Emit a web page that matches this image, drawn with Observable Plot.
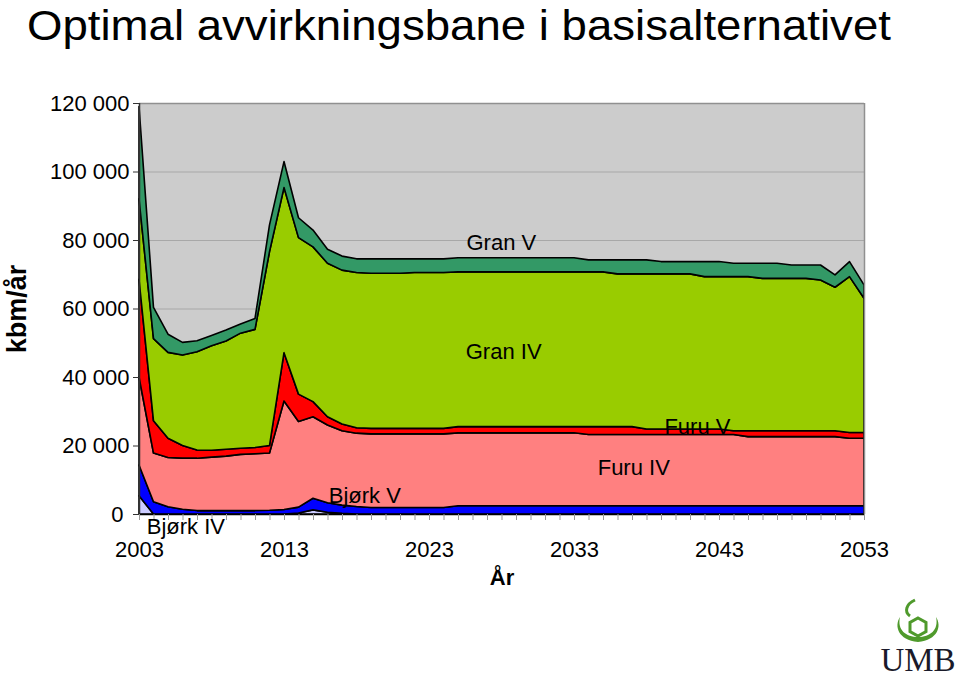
<!DOCTYPE html>
<html><head><meta charset="utf-8">
<script src="https://cdn.jsdelivr.net/npm/d3@7"></script>
<script src="https://cdn.jsdelivr.net/npm/@observablehq/plot@0.6"></script>
<style>
body{margin:0;background:#fff;}
#wrap{position:relative;width:959px;height:679px;overflow:hidden;font-family:"Liberation Sans",Arial,sans-serif;}
#title{position:absolute;left:27px;top:2px;font-size:43px;line-height:46px;white-space:nowrap;color:#000;transform:scaleX(1.06);transform-origin:0 0;}
#chart{position:absolute;left:0;top:0;}
#logo{position:absolute;left:860px;top:590px;}
</style></head><body>
<div id="wrap">
<div id="chart"></div>
<div id="title">Optimal avvirkningsbane i basisalternativet</div>
<svg id="logo" width="99" height="89" viewBox="0 0 99 89">
  <path d="M55,10 C46,14 44,22 50,26" fill="none" stroke="#4f9a2c" stroke-width="3"/>
  <path d="M40,27 C34,36 38,50 58,52 C78,50 82,36 76,27 C79,40 70,47 58,47 C46,47 37,40 40,27 Z" fill="#4f9a2c"/>
  <path d="M58,28 L66,32.5 L66,41.5 L58,46 L50,41.5 L50,32.5 Z" fill="none" stroke="#4f9a2c" stroke-width="3"/>
  <text x="58" y="81" text-anchor="middle" font-family="Liberation Serif, DejaVu Serif, serif" font-size="33" fill="#1a1a2a">UMB</text>
</svg>
</div>
<script>
const years = [2003,2004,2005,2006,2007,2008,2009,2010,2011,2012,2013,2014,2015,2016,2017,2018,2019,2020,2021,2022,2023,2024,2025,2026,2027,2028,2029,2030,2031,2032,2033,2034,2035,2036,2037,2038,2039,2040,2041,2042,2043,2044,2045,2046,2047,2048,2049,2050,2051,2052,2053];

const seriesNames = ["Bjørk IV","Bjørk V","Furu IV","Furu V","Gran IV","Gran V"];
const seriesColors = ["#ccccff","#0000ff","#ff8080","#ff0000","#99cc00","#339966"];

const bjorkIV = [5300,0,0,0,0,0,0,0,0,0,0,300,1200,500,200,0,0,0,0,0,0,0,0,0,0,0,0,0,0,0,0,0,0,0,0,0,0,0,0,0,0,0,0,0,0,0,0,0,0,0,0];
const bjorkV = [9000,3600,2100,1400,1000,1000,1000,1000,1000,1100,1300,1700,3400,2800,2400,2200,1900,1900,1900,1900,1900,1900,2400,2400,2400,2400,2400,2400,2400,2400,2400,2400,2400,2400,2400,2400,2400,2400,2400,2400,2400,2400,2400,2400,2400,2400,2400,2400,2400,2400,2400];
const furuIV = [25700,14200,14400,14900,15300,15600,15900,16400,16600,16700,31700,25000,23800,22700,21700,21400,21500,21500,21500,21500,21500,21500,21300,21300,21300,21300,21300,21300,21300,21300,21300,20800,20800,20800,20800,20800,20800,20800,20800,20800,20800,20800,20200,20200,20200,20200,20200,20200,20200,19700,19700];
const furuV = [28500,9400,5600,3700,2400,2000,2000,1800,1800,2200,14100,8000,4400,2400,2000,1600,1600,1600,1600,1600,1600,1600,1800,1800,1800,1800,1800,1800,1800,1800,1800,2300,2300,2300,2300,1600,1600,1600,1600,1600,1600,1100,1700,1700,1700,1700,1700,1700,1700,1700,1700];
const granIV = [23500,24000,25100,26400,28700,30500,31600,33600,34500,56600,48200,45700,45200,44800,44900,45300,45300,45300,45300,45500,45500,45500,45200,45200,45200,45200,45200,45200,45200,45200,45200,45200,45200,44600,44600,45300,45300,45300,45300,44500,44500,45000,45000,44500,44500,44500,44500,44000,41900,45500,39200];
const granV = [27000,9100,5300,3700,3200,3000,3200,2700,3200,7800,7600,5800,4900,4100,4100,4000,4200,4200,4200,4000,4000,4000,4100,4100,4100,4100,4100,4100,4100,4100,4100,3500,3500,4100,4100,4100,3600,3600,3600,4400,4400,3900,3900,4400,4400,3900,3900,4400,3600,4400,3900];

const yTicks = [0,20000,40000,60000,80000,100000,120000];
const xLabelYears = [2003,2013,2023,2033,2043,2053];

// area labels (text, year, value at baseline)
const labelText = ["Gran V","Gran IV","Furu V","Furu IV","Bjørk V","Bjørk IV"];
const labelYear = [2025.55,2025.5,2039.2,2034.6,2016.05,2003.5];
const labelValue = [77100,45500,23600,11400,3500,-5800];

const yTitle = "kbm/år";
const xTitle = "År";

const seriesData = [bjorkIV,bjorkV,furuIV,furuV,granIV,granV];
const rows = [];
seriesNames.forEach((s,i) => years.forEach((y,j) => rows.push({year:y, series:s, value:seriesData[i][j]})));
const labels = labelText.map((t,i) => ({text:t, year:labelYear[i], value:labelValue[i]}));

const fmt = d => d === 0 ? "0\u00a0" : d3.format(",")(d).replace(/,/g, " ");

const chart = Plot.plot({
  width: 959, height: 679,
  marginLeft: 139, marginRight: 95, marginTop: 103, marginBottom: 165,
  style: {fontFamily: "Liberation Sans, Arial, sans-serif", fontSize: "22px", color: "#000", background: "transparent", overflow: "visible"},
  x: {domain: [2003, 2053]},
  y: {domain: [0, 120000]},
  color: {domain: seriesNames, range: seriesColors},
  marks: [
    Plot.frame({fill: "#cccccc", stroke: null}),
    Plot.gridY(yTicks, {stroke: "#a8a8a8", strokeOpacity: 1, strokeWidth: 1}),
    Plot.areaY(rows, {x: "year", y: "value", z: "series", fill: "series", order: seriesNames, stroke: "#000", strokeWidth: 1.6, strokeLinejoin: "round"}),
    Plot.ruleY([120000], {stroke: "#909090", strokeWidth: 1.5}),
    Plot.ruleX([2053], {stroke: "#909090", strokeWidth: 1.5}),
    Plot.ruleX([2003], {stroke: "#333", strokeWidth: 1.5}),
    Plot.ruleY([0], {stroke: "#000", strokeWidth: 1.5}),
    Plot.axisY(yTicks, {tickSize: 6, tickPadding: 4, tickFormat: fmt, fontSize: 22, label: null, stroke: "#333"}),
    Plot.axisX(years, {tickSize: 6, tickFormat: () => "", label: null, stroke: "#999"}),
    Plot.axisX(xLabelYears, {tickSize: 0, tickPadding: 27, tickFormat: d => String(d), fontSize: 22, label: null}),
    Plot.text(labels, {x: "year", y: "value", text: "text", fontSize: 22, textAnchor: "start", lineAnchor: "bottom", fill: "#000", clip: false}),
    Plot.text([xTitle], {text: d => d, frameAnchor: "bottom", lineAnchor: "middle", dy: 63, fontSize: 22, fontWeight: "bold"}),
    Plot.text([yTitle], {text: d => d, frameAnchor: "left", textAnchor: "middle", rotate: -90, dx: -122.5, lineAnchor: "middle", fontSize: 27, fontWeight: "bold"})
  ]
});
document.getElementById("chart").appendChild(chart);
</script>
</body></html>
